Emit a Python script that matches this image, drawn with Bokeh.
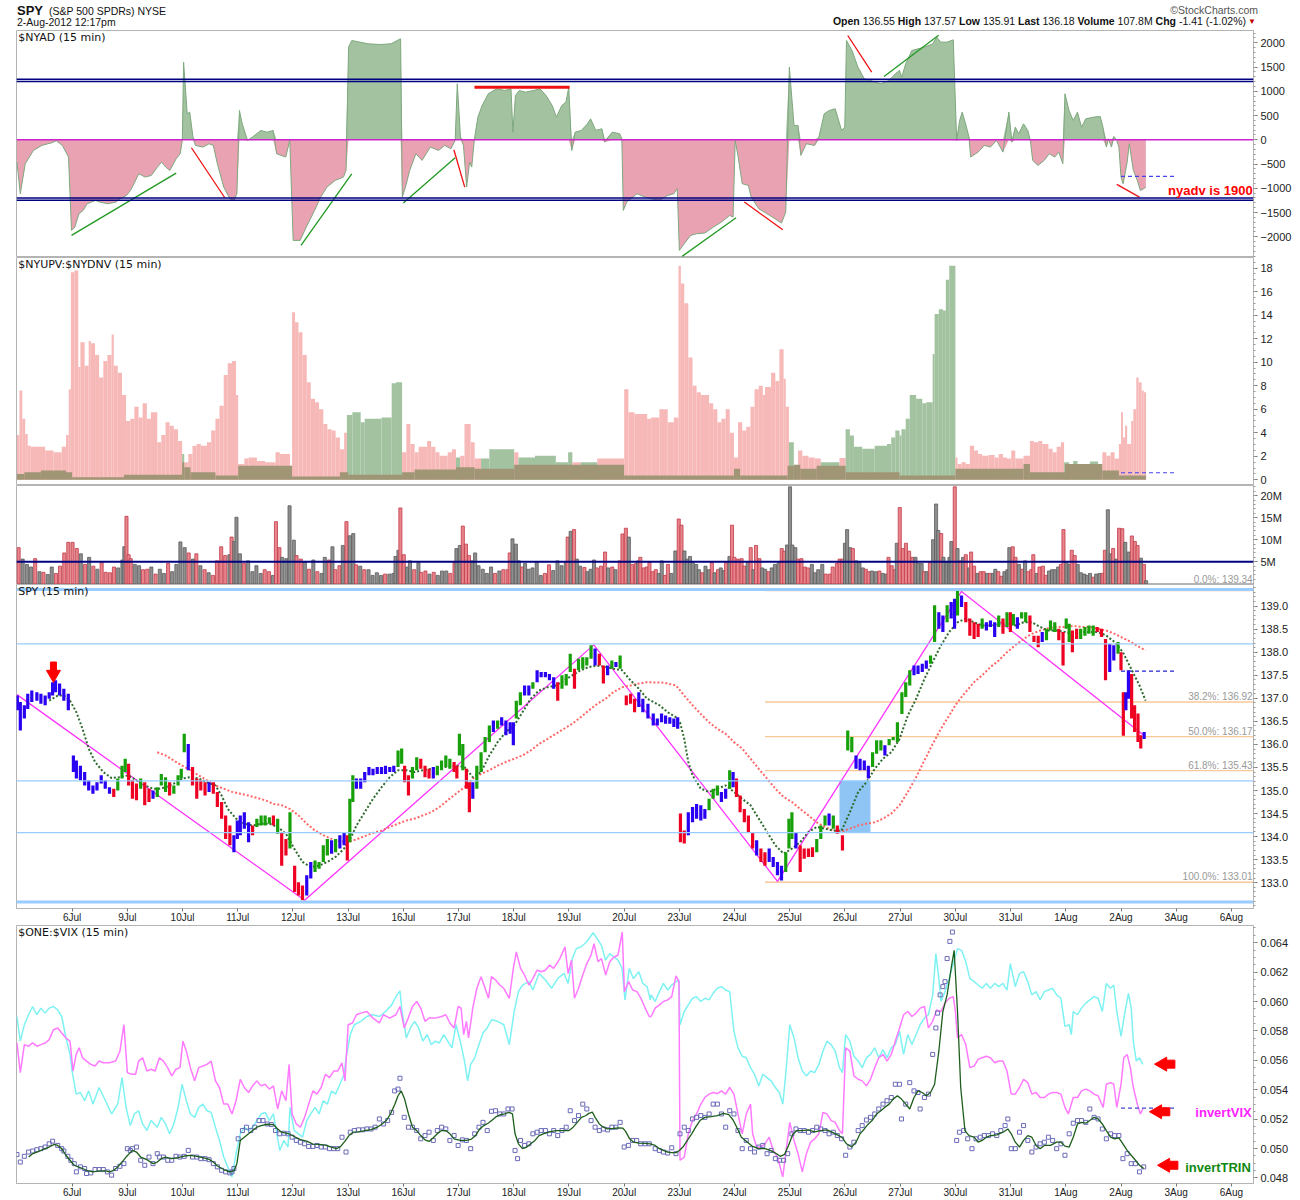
import numpy as np
from bokeh.plotting import figure
from bokeh.layouts import column
from bokeh.models import Range1d, FixedTicker, Span, Label, Div, PrintfTickFormatter
from bokeh.embed import file_html
from bokeh.resources import INLINE

# ---------------- x axis (15-minute bars, 26 per session) ----------------
BARS_PER_DAY = 26
DATES = ["6Jul", "9Jul", "10Jul", "11Jul", "12Jul", "13Jul", "16Jul", "17Jul", "18Jul", "19Jul", "20Jul",
         "23Jul", "24Jul", "25Jul", "26Jul", "27Jul", "30Jul", "31Jul", "1Aug", "2Aug", "3Aug", "6Aug"]
DATA_END = 531.8

# ---------------- $NYAD (bar index, value) ----------------
NYAD = [(0, -460), (1.6, -1112), (3.9, -494), (7.8, -219), (11.7, -116), (16.5, -60), (18.5, -20), (21.4, -116), (24.3, -356), (25.7, -1868),
        (27.3, -1800), (29.2, -1525), (31.2, -1456), (33.1, -1318), (37, -1250), (38.9, -1284), (42.8, -1318), (46.7, -1284), (48.7, -1215), (51.6, -1147),
        (53.5, -1044), (55.5, -872), (57.4, -700), (60.4, -769), (63.3, -734), (66.2, -563), (68.1, -460), (70.1, -563), (72, -631), (75, -391), (76.9, -288), (77.9, -13),
        (78.5, 1601), (80.2, 536), (81.4, 571), (82.9, 56), (84.1, -116), (87.6, -150), (90.5, -82), (92.5, -116), (94.4, -494), (97.4, -975), (100.3, -1215), (102.2, -1250), (103.6, -1112),
        (104.8, 605), (106.1, 330), (108.6, -13), (110.9, 56), (114.9, 193), (117.8, 158), (120.7, 193), (122.3, -288), (126.6, -356), (128.5, -13),
        (130.1, -2074), (133.4, -2074), (136.3, -1799), (140.2, -1456), (143.1, -1181), (146, -975), (149.9, -837), (153.8, -769), (155, -631),
        (156.2, 1911), (157.7, 2048), (161.6, 2014), (165.5, 1979), (171.3, 1965), (176.2, 1979), (179.1, 2048), (180.7, 2082),
        (181.5, -1181), (183, -975), (185, -631), (187.9, -288), (190.8, -425), (194.7, -150), (198.6, -219), (201.5, -116), (204.4, -185), (206.4, -13),
        (207.4, 1155), (208.9, 56), (210.3, -116), (211.8, -975), (213.2, -460), (214.2, -563), (215.4, -13), (217.1, 468), (219.1, 708), (222, 949), (225.9, 1052), (229.8, 1017), (232.7, 1052), (233.6, 158),
        (234.8, 914), (236.6, 1017), (239.5, 983), (243.4, 1017), (246.3, 1052), (249.2, 914), (252.1, 708), (254.1, 468), (256.6, 708), (258.6, 777), (259.9, 1086),
        (261.3, -219), (262.9, 158), (265.8, 193), (268.7, 330), (270.2, 433), (272.6, 193), (275.5, 227), (276.9, -48), (280.4, 158), (283.9, 124), (284.9, 21),
        (285.6, -1456), (287.2, -1284), (292.1, -1112), (295.9, -1181), (298.7, -1215), (302.5, -1250), (306.5, -1147), (309.4, -1112), (311.0, -1009),
        (312.0, -2280), (314.3, -2143), (317.3, -1971), (320.1, -1937), (324.0, -1923), (328.0, -1800), (331.8, -1696), (335.7, -1559), (337.3, -1594),
        (338.3, -13), (339.7, -356), (341.6, -906), (344.5, -940), (345.8, -1181), (349.4, -1421), (353.3, -1525), (357.1, -1628), (360.1, -1717), (362.1, -1490),
        (363.8, 1498), (366.0, 296), (367.9, 296), (369.2, -322), (371.8, -82), (375.7, -116), (377.7, 56), (380.2, 536), (382.6, 605), (385.4, 640), (388.4, 193), (389.9, 262),
        (390.7, 2048), (393.3, 1842), (396.1, 1498), (399.1, 1258), (402.0, 1223), (406.9, 1155), (410.8, 1223), (413.7, 1361), (415.7, 1430), (416.7, 1292),
        (418.6, 1567), (421.5, 1842), (424.4, 1876), (427.4, 1911), (431.3, 1979), (433.2, 2117), (435.1, 2014), (438.1, 2014), (441.0, 2062),
        (442.6, -13), (444.0, 399), (445.2, 571), (446.8, 330), (448.4, 56), (449.2, -356), (452.7, -254), (455.6, -116), (458.5, -150), (461.4, -13), (464.4, -254), (467.2, 571),
        (468.6, -48), (470.2, 262), (471.8, 124), (474.1, 330), (476.1, 193), (477.3, -13), (478.4, -425), (480.9, -528), (483.8, -425), (486.2, -288), (488.8, -356), (490.7, -254), (492.6, -494),
        (493.6, 949), (495.5, 605), (497.5, 399), (499.5, 571), (501.4, 262), (503.4, 433), (507.2, 468), (510.2, 482), (511.5, 262), (513.1, -150), (514.1, 21), (515.5, -150), (516.6, 69), (518.0, -13),
        (519.0, -150), (520.0, -769), (521.0, -906), (522.9, -460), (523.9, -82), (525.8, -631), (527.7, -837), (529.1, -1044), (530.7, -1009), (531.7, -975)]
NYAD_LEVELS = [1250, 1200, -1200, -1245]
NYAD_GREEN_LINES = [(25.7, -1971, 75.0, -686), (133.8, -2177, 157.7, -700), (182.0, -1305, 206.4, -370),
                    (313.3, -2404, 338.7, -1607), (408.4, 1306, 434.1, 2158)]
NYAD_RED_LINES = [(82.2, -164, 97.9, -1195), (205.8, -205, 210.9, -975), (342.6, -1284, 360.7, -1854),
                  (391.3, 2151, 402.6, 1395), (518.0, -920, 528.7, -1181)]
NYAD_RED_FLAT = [(215.5, 1086, 260.3, 1086)]
NYAD_DASH = [(520.0, -755, 545.2, -755)]
NYAD_NOTE = (582.0, -1045, "nyadv is 1900")

# ---------------- $NYUPV:$NYDNV (start bar, value, p=down-pink / g=up-green) ----------------
UPDN = [(0, 3.8, 'p'), (1.2, 7.6, 'p'), (2.5, 5.2, 'p'), (3.9, 3.9, 'p'), (5.1, 2.9, 'p'), (6.5, 2.8, 'p'), (13.3, 2.5, 'p'), (17.2, 2.35, 'p'),
        (21.1, 2.8, 'p'), (23.1, 3.8, 'p'), (24.4, 7.7, 'p'), (25.4, 17.65, 'p'), (27.0, 17.8, 'p'), (28.9, 9.6, 'p'), (29.9, 11.7, 'p'), (31.9, 9.7, 'p'),
        (33.8, 11.8, 'p'), (34.8, 11.6, 'p'), (36.8, 10.6, 'p'), (38.7, 8.7, 'p'), (40.7, 10.1, 'p'), (42.6, 10.6, 'p'), (44.6, 12.35, 'p'), (45.6, 9.7, 'p'),
        (47.5, 9.1, 'p'), (49.5, 7.2, 'p'), (51.4, 5.0, 'p'), (53.4, 5.2, 'p'), (55.3, 6.2, 'p'), (57.3, 5.3, 'p'), (59.2, 6.5, 'p'), (61.2, 5.2, 'p'),
        (63.1, 5.75, 'p'), (66.1, 3.2, 'p'), (68.0, 3.8, 'p'), (70.0, 4.9, 'p'), (71.9, 4.6, 'p'), (73.9, 4.3, 'p'), (75.9, 3.3, 'p'), (77.8, 2.2, 'g'),
        (78.8, 1.5, 'p'), (80.7, 2.2, 'p'), (82.7, 2.9, 'p'), (84.7, 3.05, 'p'), (86.6, 2.9, 'p'), (89.5, 3.2, 'p'), (91.5, 4.2, 'p'), (93.5, 5.2, 'p'),
        (95.4, 6.3, 'p'), (97.4, 8.9, 'p'), (99.3, 9.9, 'p'), (101.3, 10.1, 'p'), (103.2, 7.2, 'p'), (104.2, 1.35, 'p'), (107.1, 1.8, 'p'), (109.1, 1.9, 'p'),
        (113.0, 1.6, 'p'), (116.9, 1.5, 'p'), (121.8, 2.35, 'p'), (123.8, 2.2, 'p'), (128.6, 1.2, 'p'), (129.6, 14.25, 'p'), (131.0, 13.4, 'p'),
        (132.6, 12.55, 'p'), (134.5, 10.6, 'p'), (136.5, 8.3, 'p'), (138.4, 6.9, 'p'), (140.4, 6.6, 'p'), (142.3, 6.0, 'p'), (144.3, 4.75, 'p'), (146.2, 4.3, 'p'),
        (148.2, 4.2, 'p'), (150.1, 3.6, 'p'), (152.1, 2.6, 'p'), (154.1, 4.0, 'p'), (155.4, 5.5, 'g'), (158.0, 5.75, 'g'), (161.9, 4.9, 'g'), (163.8, 5.2, 'g'),
        (171.7, 5.3, 'g'), (176.5, 8.2, 'g'), (178.5, 8.3, 'g'), (181.4, 2.35, 'p'), (183.4, 4.75, 'p'), (185.3, 3.05, 'p'), (187.3, 2.35, 'p'), (189.2, 2.8, 'p'),
        (193.2, 3.3, 'p'), (195.1, 2.8, 'p'), (197.1, 2.35, 'p'), (199.0, 2.05, 'p'), (202.9, 2.35, 'p'), (204.9, 2.6, 'p'), (206.8, 1.9, 'g'), (208.8, 2.05, 'p'),
        (210.8, 4.75, 'p'), (213.7, 3.2, 'p'), (215.6, 1.8, 'p'), (218.6, 1.8, 'g'), (222.5, 2.6, 'g'), (234.2, 2.35, 'p'), (236.2, 1.9, 'g'), (244.0, 2.05, 'g'),
        (253.8, 1.5, 'g'), (259.6, 2.35, 'g'), (261.6, 1.5, 'p'), (265.5, 1.5, 'g'), (273.3, 1.8, 'p'), (286.0, 7.7, 'p'), (288.0, 5.75, 'p'), (290.9, 5.6, 'p'),
        (296.8, 5.2, 'p'), (298.7, 5.3, 'p'), (302.6, 6.0, 'p'), (306.5, 4.9, 'p'), (309.4, 5.3, 'p'), (311.6, 18.2, 'p'), (312.7, 16.7, 'p'), (314.3, 15.0, 'p'),
        (316.2, 10.4, 'p'), (318.2, 8.0, 'p'), (320.1, 7.45, 'p'), (322.1, 7.2, 'p'), (326.0, 6.5, 'p'), (327.9, 6.0, 'p'), (329.9, 4.9, 'p'), (331.8, 5.2, 'p'),
        (333.8, 6.0, 'p'), (335.7, 4.0, 'p'), (337.7, 1.9, 'p'), (339.6, 4.9, 'p'), (341.6, 4.2, 'p'), (343.5, 4.5, 'p'), (345.5, 6.2, 'p'), (347.4, 7.7, 'p'),
        (349.4, 8.0, 'p'), (351.3, 7.2, 'p'), (352.3, 7.9, 'p'), (355.2, 9.1, 'p'), (357.2, 8.4, 'p'), (359.1, 11.1, 'p'), (361.1, 8.6, 'p'), (362.1, 6.2, 'p'),
        (363.6, 3.2, 'g'), (365.9, 1.2, 'p'), (367.9, 2.5, 'p'), (369.9, 2.05, 'p'), (372.8, 1.9, 'p'), (375.7, 1.8, 'p'), (378.6, 1.5, 'g'), (387.4, 1.85, 'p'),
        (390.3, 4.3, 'g'), (392.3, 3.76, 'g'), (394.2, 2.8, 'g'), (398.1, 2.65, 'g'), (404.0, 2.9, 'g'), (409.8, 3.05, 'g'), (411.8, 3.6, 'g'), (413.7, 4.2, 'g'),
        (415.7, 3.76, 'g'), (416.6, 4.3, 'g'), (418.6, 5.2, 'g'), (420.5, 7.2, 'g'), (423.5, 6.9, 'g'), (426.4, 6.5, 'g'), (428.3, 6.6, 'g'), (431.3, 10.7, 'g'),
        (432.2, 14.1, 'g'), (434.2, 14.5, 'g'), (436.1, 14.4, 'g'), (437.5, 17.0, 'g'), (439.1, 18.2, 'g'), (442.0, 1.9, 'p'), (443.0, 1.35, 'p'), (444.9, 1.5, 'p'),
        (446.9, 1.35, 'p'), (448.8, 2.9, 'p'), (450.8, 2.5, 'p'), (452.7, 2.2, 'p'), (454.6, 2.05, 'p'), (457.6, 2.1, 'p'), (460.5, 1.9, 'p'), (462.4, 2.2, 'p'),
        (464.4, 1.9, 'p'), (466.3, 1.8, 'p'), (468.3, 2.5, 'p'), (470.2, 1.8, 'p'), (474.1, 2.05, 'p'), (477.1, 3.3, 'p'), (479.0, 3.2, 'p'), (481.0, 3.3, 'p'),
        (482.9, 3.05, 'p'), (485.8, 2.65, 'p'), (487.8, 2.35, 'p'), (489.7, 2.8, 'p'), (491.7, 3.2, 'p'), (493.2, 1.5, 'g'), (495.6, 1.35, 'p'), (497.5, 1.6, 'g'),
        (499.5, 1.35, 'g'), (505.3, 1.55, 'g'), (509.2, 1.2, 'p'), (511.2, 2.35, 'p'), (513.1, 2.05, 'p'), (515.1, 2.35, 'p'), (517.0, 1.8, 'p'), (519.0, 3.05, 'p'),
        (520.0, 5.75, 'p'), (520.9, 3.6, 'p'), (521.9, 4.6, 'p'), (522.9, 3.05, 'p'), (524.8, 5.0, 'p'), (525.8, 6.0, 'p'), (527.2, 8.7, 'p'), (528.3, 8.3, 'p'),
        (529.7, 7.6, 'p'), (530.7, 7.45, 'p')]
UPDN_BASE = [(0, 0.5), (3.5, 0.64), (11.3, 0.78), (23.1, 0.64), (26.0, 0.22), (50.4, 0.42), (77.8, 1.5), (78.8, 1.07), (81.7, 0.64), (93.5, 0.36),
             (104.2, 1.2), (129.6, 0.27), (152.1, 0.64), (156.0, 0.42), (181.4, 0.64), (187.3, 0.87), (206.8, 1.07), (215.6, 0.93), (234.2, 1.27),
             (286.0, 0.36), (337.7, 0.93), (340.6, 0.36), (363.0, 1.2), (365.9, 1.27), (368.9, 0.93), (376.7, 1.2), (390.3, 0.64), (415.7, 0.36),
             (442.0, 0.93), (474.1, 1.35), (477.1, 0.64), (493.6, 1.35), (511.2, 0.78), (519.0, 0.36)]
UPDN_DASH = (520.0, 545.3, 0.6)

# ---------------- Volume (bar, millions, r=down / g=gray) ----------------
VOL = [(0.8, 8.2, 'r'), (2.7, 5.6, 'g'), (4.7, 4.4, 'g'), (6.6, 3.8, 'g'), (8.6, 5.7, 'r'), (10.6, 2.75, 'g'), (12.5, 2.6, 'r'), (14.5, 2.1, 'g'),
       (16.4, 3.8, 'g'), (18.4, 2.35, 'r'), (20.3, 4.0, 'r'), (22.3, 7.0, 'r'), (24.2, 9.4, 'r'), (26.2, 9.4, 'r'), (28.2, 8.0, 'r'), (30.1, 6.8, 'g'),
       (32.1, 4.4, 'r'), (34.0, 6.0, 'g'), (36.0, 4.0, 'r'), (37.9, 3.3, 'g'), (39.9, 4.8, 'r'), (41.8, 2.6, 'r'), (43.8, 2.5, 'r'), (45.7, 3.8, 'r'),
       (47.7, 3.6, 'g'), (49.7, 5.4, 'g'), (50.6, 8.4, 'g'), (51.6, 15.3, 'r'), (52.6, 6.6, 'r'), (53.6, 5.7, 'r'), (55.5, 4.4, 'g'), (57.5, 4.1, 'g'),
       (59.4, 3.2, 'r'), (61.4, 3.3, 'r'), (63.3, 3.8, 'g'), (65.3, 2.2, 'r'), (67.3, 3.3, 'g'), (69.2, 2.35, 'g'), (71.2, 4.6, 'r'), (73.1, 2.75, 'g'),
       (75.1, 4.4, 'g'), (77.0, 9.5, 'g'), (79.0, 8.2, 'g'), (80.9, 7.0, 'r'), (82.9, 5.6, 'g'), (84.5, 6.8, 'r'), (86.4, 4.1, 'g'), (88.4, 3.2, 'r'),
       (90.3, 2.5, 'g'), (92.3, 1.9, 'r'), (94.2, 5.2, 'r'), (96.2, 8.4, 'r'), (98.1, 6.4, 'r'), (100.1, 6.6, 'g'), (101.1, 10.6, 'r'), (102.4, 9.6, 'g'),
       (103.4, 15.1, 'g'), (105.0, 6.8, 'g'), (106.9, 4.6, 'r'), (108.9, 5.2, 'g'), (110.9, 2.75, 'g'), (112.8, 4.1, 'g'), (114.8, 2.35, 'g'), (116.7, 3.2, 'r'),
       (118.7, 2.75, 'r'), (120.6, 1.9, 'g'), (122.0, 14.1, 'r'), (123.6, 8.2, 'r'), (124.9, 6.0, 'g'), (126.9, 5.7, 'g'), (128.4, 17.7, 'g'), (130.4, 9.9, 'g'),
       (131.7, 6.4, 'r'), (133.7, 5.6, 'r'), (135.6, 4.9, 'g'), (137.6, 3.3, 'r'), (139.6, 5.4, 'g'), (141.5, 2.75, 'r'), (143.5, 2.35, 'g'), (145.0, 6.0, 'g'),
       (147.0, 5.4, 'r'), (148.6, 8.4, 'g'), (149.9, 3.2, 'r'), (151.9, 4.1, 'r'), (153.5, 8.7, 'g'), (155.2, 14.1, 'r'), (156.8, 10.9, 'g'), (158.4, 11.4, 'g'),
       (159.7, 4.3, 'r'), (161.7, 4.0, 'g'), (163.6, 3.2, 'r'), (165.6, 3.2, 'g'), (167.5, 1.9, 'g'), (169.5, 2.5, 'g'), (171.5, 1.9, 'g'), (173.4, 2.2, 'r'),
       (175.4, 2.2, 'g'), (177.3, 2.35, 'g'), (178.3, 6.2, 'g'), (179.7, 7.6, 'g'), (180.6, 17.2, 'r'), (182.2, 6.6, 'r'), (183.8, 3.8, 'g'), (185.1, 5.2, 'g'),
       (187.1, 3.2, 'r'), (189.1, 4.8, 'g'), (190.4, 2.6, 'r'), (192.4, 2.9, 'r'), (194.3, 2.2, 'g'), (196.3, 2.6, 'r'), (198.2, 1.9, 'g'), (200.2, 2.9, 'g'),
       (202.2, 2.9, 'g'), (204.1, 2.35, 'r'), (206.1, 4.8, 'r'), (207.0, 8.0, 'g'), (208.6, 8.7, 'g'), (210.0, 13.1, 'r'), (211.5, 9.0, 'r'), (212.9, 6.4, 'r'),
       (214.5, 5.2, 'g'), (215.8, 7.0, 'g'), (217.4, 4.1, 'g'), (219.4, 3.3, 'g'), (221.3, 2.35, 'g'), (223.3, 3.8, 'g'), (225.2, 2.35, 'r'), (227.2, 2.9, 'g'),
       (229.1, 3.2, 'r'), (231.1, 3.2, 'r'), (232.1, 7.0, 'r'), (233.4, 10.2, 'g'), (235.0, 9.0, 'g'), (236.4, 5.2, 'g'), (237.9, 3.8, 'r'), (239.3, 4.6, 'g'),
       (240.9, 3.3, 'g'), (242.8, 3.6, 'g'), (244.8, 4.8, 'g'), (246.7, 1.9, 'g'), (248.7, 2.35, 'r'), (250.6, 4.3, 'r'), (252.6, 3.0, 'g'), (254.6, 5.2, 'g'),
       (256.5, 4.1, 'g'), (258.5, 4.8, 'g'), (259.4, 10.6, 'r'), (260.8, 11.9, 'g'), (262.4, 12.3, 'r'), (263.7, 5.6, 'g'), (265.3, 4.0, 'g'), (267.3, 3.7, 'r'),
       (268.7, 2.75, 'g'), (270.2, 3.3, 'g'), (271.8, 5.4, 'g'), (273.1, 3.6, 'r'), (275.1, 4.0, 'r'), (277.0, 7.2, 'r'), (278.4, 3.6, 'g'), (280.4, 3.8, 'r'),
       (281.9, 3.2, 'g'), (283.9, 5.2, 'r'), (285.2, 11.3, 'r'), (286.8, 12.6, 'r'), (288.2, 10.6, 'g'), (289.7, 4.4, 'r'), (291.6, 4.6, 'r'), (292.6, 5.2, 'g'),
       (293.6, 6.0, 'r'), (295.2, 3.6, 'r'), (296.6, 3.8, 'r'), (297.9, 4.9, 'r'),
       (299.4, 2.75, 'r'), (300.9, 3.2, 'r'), (302.3, 2.35, 'g'), (303.7, 5.2, 'g'), (305.2, 1.9, 'r'), (306.6, 4.4, 'r'), (308.2, 2.35, 'g'), (310.1, 7.45, 'g'),
       (311.7, 14.7, 'r'), (313.0, 13.3, 'r'), (314.4, 7.45, 'g'), (315.6, 5.6, 'g'), (317.0, 6.2, 'g'), (318.3, 4.8, 'g'), (319.9, 4.4, 'g'), (321.2, 3.2, 'g'),
       (322.8, 2.5, 'r'), (324.3, 4.0, 'g'), (325.9, 3.2, 'g'), (327.3, 4.8, 'r'), (328.6, 2.5, 'g'), (330.2, 3.2, 'r'), (331.5, 3.6, 'g'), (332.9, 3.0, 'g'),
       (334.0, 4.8, 'r'), (335.6, 6.2, 'g'), (336.8, 13.3, 'r'), (337.9, 6.0, 'r'), (339.5, 5.6, 'r'), (341.3, 5.7, 'r'), (342.6, 4.0, 'r'), (344.2, 4.8, 'g'),
       (345.6, 8.2, 'r'), (346.9, 3.2, 'g'), (348.1, 8.7, 'r'), (349.7, 5.7, 'r'), (351.0, 3.6, 'g'), (352.4, 3.3, 'g'), (354.0, 2.75, 'r'), (355.5, 3.6, 'g'),
       (357.0, 4.4, 'g'), (358.8, 4.8, 'g'), (360.2, 8.0, 'r'), (361.4, 7.4, 'r'), (362.7, 8.8, 'g'), (364.1, 22.0, 'g'), (365.2, 8.8, 'g'), (366.6, 8.2, 'g'),
       (367.9, 5.6, 'r'), (369.5, 5.7, 'r'), (371.1, 3.8, 'r'), (372.5, 3.6, 'r'), (374.4, 4.4, 'g'), (375.8, 2.5, 'g'), (377.4, 3.2, 'g'), (379.3, 4.4, 'g'),
       (380.9, 2.2, 'r'), (382.8, 2.2, 'r'), (384.2, 3.8, 'r'), (386.2, 4.6, 'r'), (387.5, 5.6, 'r'), (388.7, 5.6, 'r'), (390.0, 9.2, 'g'), (391.0, 12.3, 'g'),
       (392.4, 8.2, 'g'), (393.7, 8.0, 'r'), (395.3, 5.2, 'g'), (396.8, 4.9, 'g'), (398.4, 3.6, 'g'), (399.8, 3.3, 'r'), (401.1, 2.75, 'r'), (402.7, 2.9, 'g'),
       (404.6, 2.75, 'g'), (406.2, 2.9, 'r'), (407.8, 2.35, 'g'), (409.5, 2.2, 'g'), (410.5, 6.0, 'r'), (412.0, 4.1, 'r'), (413.4, 3.2, 'r'), (414.4, 9.2, 'g'),
       (415.8, 17.3, 'r'), (417.3, 8.0, 'r'), (418.7, 9.2, 'r'), (420.2, 7.4, 'r'), (421.8, 6.0, 'r'), (423.2, 6.0, 'g'), (424.5, 4.6, 'g'), (426.1, 4.6, 'g'),
       (427.2, 2.75, 'r'), (428.4, 2.75, 'g'), (430.0, 4.8, 'r'), (431.5, 10.0, 'g'), (432.9, 18.1, 'g'), (433.9, 12.1, 'g'), (435.3, 11.4, 'r'), (436.4, 6.0, 'g'),
       (437.8, 4.9, 'g'), (439.2, 6.0, 'g'), (440.1, 9.6, 'g'), (441.7, 22.0, 'r'), (443.0, 8.0, 'g'), (444.4, 5.2, 'r'), (445.6, 6.0, 'g'), (446.9, 6.6, 'r'),
       (448.5, 3.6, 'g'), (449.4, 7.2, 'r'), (450.8, 4.0, 'r'), (452.4, 2.35, 'g'), (453.9, 2.75, 'r'), (455.3, 2.75, 'r'), (456.9, 2.35, 'g'), (458.3, 2.35, 'r'),
       (459.6, 2.35, 'g'), (460.8, 3.3, 'g'), (462.2, 2.75, 'r'), (463.7, 1.7, 'r'), (465.1, 2.75, 'g'), (466.5, 3.2, 'g'), (467.4, 8.2, 'g'), (469.0, 8.4, 'r'),
       (470.3, 6.0, 'r'), (471.9, 4.4, 'g'), (473.5, 3.3, 'r'), (474.8, 5.2, 'g'), (476.2, 2.75, 'r'), (477.7, 3.2, 'r'), (478.7, 6.6, 'r'), (480.3, 2.35, 'g'),
       (481.6, 3.8, 'r'), (483.2, 4.0, 'r'), (484.6, 1.9, 'r'), (486.1, 2.9, 'g'), (487.5, 3.2, 'g'), (488.8, 3.2, 'g'), (490.4, 3.8, 'g'), (491.7, 4.4, 'r'),
       (492.9, 12.3, 'r'), (494.3, 4.9, 'g'), (495.7, 4.4, 'g'), (496.8, 7.6, 'r'), (498.2, 6.4, 'r'), (499.6, 4.4, 'g'), (501.1, 2.5, 'g'), (502.7, 2.2, 'g'),
       (504.0, 1.9, 'g'), (505.4, 2.35, 'g'), (507.0, 1.5, 'r'), (508.3, 2.2, 'g'), (509.9, 2.35, 'g'), (511.3, 2.35, 'r'), (512.4, 7.6, 'r'), (513.8, 16.8, 'g'),
       (515.2, 6.8, 'g'), (516.3, 8.0, 'r'), (517.7, 5.6, 'g'), (519.1, 12.6, 'r'), (520.6, 12.5, 'r'), (522.0, 9.4, 'g'), (523.6, 7.2, 'g'), (525.1, 10.85, 'r'),
       (526.5, 9.6, 'r'), (527.8, 8.7, 'r'), (529.4, 5.8, 'g'), (530.8, 4.4, 'r'), (531.8, 0.7, 'g')]
VOL_LEVEL = 5.0

# ---------------- SPY 15-min bars (bar, low, high, trend colour b/g/r) ----------------
SPY = [(0.2, 136.74, 137.06, 'b'), (1.6, 136.30, 136.92, 'b'), (3.5, 136.56, 136.85, 'b'), (5.1, 136.77, 137.10, 'b'), (7.0, 136.92, 137.17, 'b'),
       (9.4, 136.95, 137.13, 'b'), (11.3, 136.88, 137.10, 'b'), (13.3, 136.85, 137.06, 'b'), (15.2, 136.99, 137.13, 'b'), (16.8, 137.06, 137.35, 'b'),
       (18.2, 137.13, 137.39, 'b'), (20.1, 137.06, 137.32, 'b'), (22.1, 136.95, 137.21, 'b'), (24.2, 136.74, 137.10, 'b'),
       (26.6, 135.40, 135.76, 'b'), (28.0, 135.26, 135.65, 'b'), (29.9, 135.22, 135.54, 'b'), (31.9, 135.11, 135.40, 'b'), (33.8, 135.00, 135.22, 'b'),
       (35.8, 134.93, 135.11, 'b'), (37.7, 135.00, 135.18, 'b'), (39.7, 135.15, 135.33, 'b'), (41.6, 135.04, 135.22, 'b'), (43.6, 134.93, 135.07, 'b'),
       (45.6, 134.86, 135.04, 'r'), (47.5, 135.00, 135.26, 'g'), (49.5, 135.26, 135.54, 'g'), (51.0, 135.40, 135.69, 'g'),
       (52.6, 135.11, 135.58, 'r'), (54.4, 134.82, 135.22, 'r'), (56.3, 134.79, 135.15, 'r'), (58.3, 135.04, 135.26, 'g'), (60.2, 134.68, 135.18, 'r'),
       (62.2, 134.75, 135.04, 'r'), (64.1, 134.82, 135.00, 'b'), (66.1, 134.86, 135.07, 'g'), (68.0, 135.11, 135.36, 'g'), (70.0, 134.97, 135.29, 'g'),
       (71.9, 134.89, 135.18, 'r'), (73.9, 134.93, 135.11, 'g'), (75.9, 135.11, 135.33, 'g'), (77.4, 135.26, 135.47, 'g'),
       (78.8, 135.83, 136.23, 'g'), (80.7, 135.44, 136.01, 'b'), (82.7, 135.11, 135.51, 'r'), (84.7, 134.82, 135.26, 'r'), (86.6, 135.00, 135.22, 'r'),
       (88.6, 134.89, 135.18, 'r'), (90.5, 134.97, 135.18, 'b'), (92.5, 134.93, 135.18, 'r'), (94.4, 134.64, 134.97, 'r'), (96.4, 134.39, 134.75, 'r'),
       (98.3, 133.95, 134.46, 'r'), (100.3, 133.81, 134.24, 'r'), (102.2, 133.66, 134.03, 'b'), (103.8, 133.95, 134.35, 'b'),
       (105.2, 134.03, 134.46, 'b'), (107.1, 134.17, 134.53, 'b'), (109.1, 133.88, 134.31, 'b'), (111.0, 134.03, 134.24, 'r'), (113.0, 134.21, 134.39, 'g'),
       (115.0, 134.24, 134.46, 'g'), (116.9, 134.24, 134.46, 'g'), (118.9, 134.28, 134.42, 'g'), (120.8, 134.24, 134.46, 'r'), (122.8, 134.06, 134.39, 'g'),
       (124.7, 133.37, 134.10, 'r'), (126.7, 133.59, 133.95, 'r'), (128.6, 133.74, 134.53, 'g'),
       (130.8, 132.80, 133.37, 'r'), (132.6, 132.72, 133.01, 'r'), (134.5, 132.62, 132.94, 'r'), (136.5, 132.72, 133.16, 'b'), (138.4, 133.09, 133.45, 'b'),
       (140.4, 133.23, 133.48, 'g'), (142.3, 133.30, 133.45, 'g'), (144.3, 133.45, 133.81, 'g'), (146.2, 133.59, 133.95, 'g'), (148.2, 133.63, 133.92, 'b'),
       (150.1, 133.66, 133.95, 'g'), (152.1, 133.74, 134.03, 'b'), (154.1, 133.81, 134.10, 'b'), (155.6, 133.48, 134.03, 'r'),
       (156.8, 133.88, 134.82, 'g'), (158.2, 134.75, 135.33, 'g'), (159.9, 135.04, 135.26, 'b'), (161.9, 135.04, 135.26, 'b'), (163.8, 135.18, 135.40, 'b'),
       (165.8, 135.33, 135.51, 'b'), (167.7, 135.33, 135.47, 'b'), (169.7, 135.36, 135.51, 'b'), (171.7, 135.36, 135.51, 'b'), (173.6, 135.36, 135.54, 'b'),
       (175.6, 135.40, 135.51, 'b'), (177.5, 135.40, 135.54, 'b'), (179.5, 135.51, 135.87, 'g'), (181.2, 135.58, 135.91, 'g'),
       (182.6, 135.18, 135.54, 'r'), (184.4, 134.89, 135.33, 'r'), (186.3, 135.26, 135.51, 'g'), (188.3, 135.44, 135.72, 'g'), (190.2, 135.47, 135.69, 'r'),
       (192.2, 135.29, 135.54, 'r'), (194.1, 135.26, 135.47, 'r'), (196.1, 135.26, 135.51, 'b'), (198.0, 135.33, 135.54, 'g'), (200.0, 135.44, 135.65, 'g'),
       (202.0, 135.51, 135.76, 'g'), (203.9, 135.47, 135.69, 'g'), (205.9, 135.40, 135.62, 'r'), (207.2, 135.26, 135.54, 'r'),
       (208.4, 135.76, 136.23, 'g'), (210.0, 135.44, 136.01, 'g'), (211.7, 135.04, 135.47, 'r'), (213.1, 134.53, 135.18, 'r'), (214.7, 134.82, 135.18, 'b'),
       (216.6, 135.04, 135.54, 'g'), (218.6, 135.40, 135.83, 'g'), (220.5, 135.83, 136.16, 'g'), (222.5, 136.05, 136.41, 'g'), (224.4, 136.27, 136.52, 'b'),
       (226.4, 136.34, 136.52, 'g'), (228.3, 136.41, 136.59, 'b'), (230.3, 136.20, 136.52, 'b'), (232.3, 136.23, 136.48, 'b'), (233.8, 135.98, 136.48, 'b'),
       (235.2, 136.56, 136.95, 'g'), (237.1, 136.85, 137.13, 'g'), (239.1, 137.06, 137.28, 'b'), (241.1, 137.06, 137.28, 'b'), (243.0, 137.21, 137.35, 'g'),
       (245.0, 137.35, 137.61, 'b'), (246.9, 137.46, 137.57, 'b'), (248.9, 137.46, 137.57, 'b'), (250.8, 137.39, 137.53, 'b'), (252.8, 137.21, 137.46, 'b'),
       (254.7, 136.95, 137.35, 'r'), (256.7, 137.21, 137.50, 'g'), (258.7, 137.28, 137.53, 'g'),
       (260.6, 137.57, 137.97, 'g'), (262.6, 137.21, 137.64, 'r'), (264.5, 137.61, 137.86, 'g'), (266.5, 137.64, 137.89, 'g'), (268.4, 137.71, 137.89, 'g'),
       (270.4, 137.86, 138.15, 'g'), (272.3, 137.71, 138.08, 'b'), (274.3, 137.71, 137.97, 'r'), (276.2, 137.32, 137.71, 'r'), (278.2, 137.50, 137.71, 'b'),
       (280.2, 137.64, 137.82, 'g'), (282.1, 137.68, 137.79, 'b'), (284.1, 137.64, 137.93, 'g'),
       (287.0, 136.85, 137.06, 'r'), (289.0, 136.88, 137.10, 'r'), (290.9, 136.70, 136.99, 'r'), (292.9, 136.81, 137.13, 'b'), (294.8, 136.70, 136.99, 'b'),
       (297.2, 136.56, 136.88, 'b'), (299.7, 136.41, 136.67, 'b'), (301.6, 136.41, 136.56, 'b'), (303.6, 136.48, 136.67, 'b'), (305.5, 136.45, 136.63, 'b'),
       (307.5, 136.45, 136.59, 'b'), (309.4, 136.38, 136.56, 'b'), (311.2, 136.34, 136.59, 'b'),
       (312.5, 133.88, 134.50, 'r'), (314.3, 133.85, 134.13, 'r'), (316.2, 134.03, 134.53, 'b'), (318.2, 134.31, 134.64, 'b'), (320.1, 134.39, 134.71, 'b'),
       (322.1, 134.35, 134.68, 'b'), (324.0, 134.39, 134.60, 'b'), (326.0, 134.57, 134.82, 'g'), (327.9, 134.82, 135.04, 'g'), (329.9, 134.89, 135.11, 'g'),
       (331.8, 134.75, 134.97, 'b'), (333.8, 134.82, 135.04, 'b'), (335.7, 135.04, 135.44, 'g'), (337.3, 135.07, 135.40, 'b'),
       (338.9, 134.86, 135.26, 'r'), (340.6, 134.53, 134.89, 'r'), (342.6, 134.31, 134.60, 'r'), (344.5, 134.10, 134.46, 'r'), (346.5, 133.74, 134.10, 'r'),
       (348.4, 133.59, 133.92, 'b'), (350.4, 133.45, 133.74, 'r'), (352.3, 133.37, 133.66, 'r'), (354.3, 133.45, 133.74, 'b'), (356.2, 133.34, 133.56, 'b'),
       (358.2, 133.16, 133.45, 'b'), (360.1, 133.05, 133.37, 'b'), (362.1, 133.23, 133.66, 'g'), (363.6, 133.74, 134.39, 'g'),
       (365.0, 133.95, 134.53, 'g'), (366.9, 133.74, 134.10, 'b'), (368.9, 133.23, 133.81, 'r'), (370.8, 133.52, 133.74, 'r'), (372.8, 133.56, 133.74, 'r'),
       (374.7, 133.56, 133.77, 'r'), (376.7, 133.66, 133.95, 'g'), (378.6, 133.95, 134.24, 'g'), (380.6, 134.24, 134.46, 'g'), (382.5, 134.24, 134.50, 'b'),
       (384.5, 134.17, 134.46, 'g'), (386.4, 134.06, 134.24, 'r'), (388.8, 133.70, 134.03, 'r'),
       (391.3, 135.87, 136.30, 'g'), (393.2, 135.83, 136.16, 'g'), (395.2, 135.47, 135.76, 'b'), (397.1, 135.44, 135.69, 'b'), (399.1, 135.44, 135.65, 'b'),
       (401.0, 135.26, 135.54, 'b'), (403.0, 135.51, 135.83, 'g'), (404.9, 135.80, 136.09, 'g'), (406.9, 135.87, 136.09, 'g'), (408.8, 135.76, 135.98, 'b'),
       (410.8, 135.98, 136.12, 'g'), (412.7, 136.09, 136.16, 'g'), (414.7, 136.05, 136.48, 'g'),
       (416.8, 136.66, 137.13, 'g'), (418.6, 137.03, 137.35, 'g'), (420.5, 137.28, 137.61, 'g'), (422.5, 137.50, 137.71, 'b'), (424.4, 137.53, 137.71, 'b'),
       (426.4, 137.57, 137.75, 'b'), (428.3, 137.64, 137.82, 'b'), (430.3, 137.75, 137.93, 'g'), (432.2, 138.22, 139.02, 'g'), (434.2, 138.51, 138.87, 'b'),
       (436.1, 138.44, 138.80, 'b'), (438.1, 138.65, 139.02, 'g'), (440.0, 138.73, 139.09, 'b'), (441.6, 138.51, 139.16, 'b'),
       (443.0, 138.80, 139.34, 'g'), (444.9, 138.98, 139.23, 'b'), (446.9, 138.65, 139.09, 'r'), (448.8, 138.36, 138.73, 'r'), (450.8, 138.29, 138.65, 'r'),
       (452.7, 138.33, 138.62, 'r'), (454.6, 138.51, 138.73, 'g'), (456.6, 138.47, 138.65, 'b'), (458.5, 138.55, 138.69, 'b'), (460.5, 138.33, 138.65, 'b'),
       (462.4, 138.55, 138.80, 'g'), (464.4, 138.40, 138.73, 'r'), (466.3, 138.55, 138.87, 'g'), (467.9, 138.44, 138.87, 'r'),
       (469.3, 138.58, 138.83, 'g'), (471.2, 138.51, 138.76, 'b'), (473.2, 138.73, 138.87, 'g'), (475.1, 138.65, 138.87, 'g'), (477.1, 138.44, 138.80, 'r'),
       (479.0, 138.22, 138.36, 'r'), (481.0, 138.11, 138.36, 'r'), (482.9, 138.22, 138.44, 'b'), (484.9, 138.26, 138.51, 'g'), (486.8, 138.47, 138.69, 'g'),
       (488.8, 138.44, 138.65, 'g'), (490.7, 138.26, 138.51, 'r'), (492.7, 137.71, 138.44, 'r'), (494.2, 138.51, 138.73, 'g'),
       (495.6, 138.22, 138.62, 'g'), (497.1, 138.00, 138.47, 'r'), (499.1, 138.29, 138.51, 'r'), (501.0, 138.29, 138.51, 'g'), (503.0, 138.36, 138.55, 'g'),
       (504.9, 138.40, 138.58, 'g'), (506.9, 138.36, 138.58, 'g'), (508.8, 138.44, 138.55, 'r'), (510.8, 138.33, 138.51, 'r'), (512.7, 137.39, 138.29, 'r'),
       (514.7, 137.57, 138.18, 'b'), (516.6, 137.82, 138.15, 'b'), (518.6, 137.97, 138.22, 'g'), (520.0, 137.61, 138.00, 'r'),
       (521.1, 136.19, 137.13, 'r'), (522.3, 136.74, 137.13, 'b'), (523.5, 136.99, 137.61, 'b'), (525.0, 136.56, 137.53, 'r'), (526.4, 136.27, 136.85, 'r'),
       (528.0, 136.05, 136.67, 'r'), (529.3, 135.91, 136.20, 'r'), (530.9, 136.12, 136.27, 'b')]

SPY_MA_FAST = [(15.2, 136.95), (19.2, 137.06), (22.1, 137.06), (25.0, 136.95), (28.0, 136.70), (30.9, 136.34), (33.8, 135.91), (36.8, 135.62),
               (40.7, 135.40), (44.6, 135.27), (48.5, 135.29), (52.4, 135.33), (56.3, 135.22), (60.2, 135.11), (64.1, 135.04), (67.1, 135.04),
               (70.0, 135.07), (73.9, 135.15), (77.8, 135.26), (81.7, 135.29), (85.6, 135.26), (89.5, 135.18), (93.5, 135.11), (96.4, 134.89),
               (99.3, 134.60), (103.2, 134.39), (107.1, 134.28), (111.0, 134.24), (115.0, 134.28), (118.9, 134.28), (122.8, 134.21), (126.7, 134.06),
               (130.6, 133.74), (134.5, 133.45), (138.4, 133.34), (142.3, 133.37), (146.2, 133.45), (150.1, 133.56), (154.1, 133.74), (157.0, 133.95),
               (159.9, 134.24), (163.8, 134.53), (167.7, 134.82), (171.7, 135.07), (175.6, 135.29), (179.5, 135.44), (183.4, 135.44), (187.3, 135.40),
               (191.2, 135.44), (195.1, 135.47), (199.0, 135.51), (202.9, 135.51), (206.8, 135.54), (210.8, 135.51), (214.7, 135.29), (218.6, 135.40),
               (222.5, 135.76), (226.4, 136.05), (230.3, 136.27), (234.2, 136.41), (238.1, 136.70), (242.0, 136.99), (245.9, 137.17), (249.9, 137.24),
               (253.8, 137.28), (257.7, 137.39), (261.6, 137.50), (265.5, 137.61), (269.4, 137.68), (273.3, 137.71), (277.2, 137.68), (281.1, 137.64),
               (285.0, 137.61), (289.0, 137.39), (292.9, 137.21), (296.8, 136.99), (298.7, 136.95), (302.6, 136.85), (306.5, 136.70), (310.4, 136.59),
               (312.3, 136.48), (314.3, 136.12), (316.2, 135.62), (318.2, 135.33), (322.1, 135.04), (326.0, 134.97), (329.9, 135.04), (333.8, 135.11),
               (337.7, 134.97), (341.6, 134.82), (345.5, 134.68), (349.4, 134.39), (353.3, 134.10), (357.2, 133.81), (361.1, 133.63), (365.0, 133.74),
               (368.9, 133.88), (372.8, 134.10), (376.7, 134.21), (380.6, 134.17), (384.5, 134.13), (388.4, 134.13), (392.3, 134.53), (396.2, 134.97),
               (400.1, 135.18), (404.0, 135.47), (407.9, 135.69), (411.8, 135.83), (415.7, 136.12), (419.6, 136.63), (423.5, 136.99), (427.4, 137.42),
               (431.3, 137.79), (435.2, 138.15), (439.1, 138.44), (443.0, 138.65), (446.9, 138.73), (450.8, 138.65), (454.6, 138.58), (458.5, 138.58),
               (462.4, 138.62), (466.3, 138.62), (470.2, 138.58), (474.1, 138.65), (478.0, 138.65), (481.9, 138.55), (485.8, 138.47), (489.7, 138.47),
               (493.6, 138.44), (497.5, 138.40), (501.4, 138.44), (505.3, 138.44), (509.2, 138.44), (513.1, 138.36), (517.0, 138.22), (520.9, 138.00),
               (524.8, 137.64), (528.7, 137.28), (531.6, 136.95)]
SPY_MA_SLOW = [(66.1, 135.83), (70.0, 135.76), (73.9, 135.65), (77.8, 135.54), (81.7, 135.44), (85.6, 135.33), (89.5, 135.22), (93.5, 135.11),
               (97.4, 135.04), (101.3, 134.97), (105.2, 134.93), (109.1, 134.89), (113.0, 134.84), (116.9, 134.79), (120.8, 134.71), (124.7, 134.68),
               (128.6, 134.60), (132.6, 134.46), (136.5, 134.28), (140.4, 134.13), (144.3, 134.03), (148.2, 133.95), (152.1, 133.90), (156.0, 133.88),
               (159.9, 133.94), (163.8, 134.01), (167.7, 134.08), (171.7, 134.13), (175.6, 134.21), (179.5, 134.28), (183.4, 134.35), (187.3, 134.39),
               (191.2, 134.46), (195.1, 134.53), (199.0, 134.64), (202.9, 134.79), (206.8, 134.93), (210.8, 135.07), (214.7, 135.26), (218.6, 135.36),
               (222.5, 135.44), (226.4, 135.54), (230.3, 135.62), (234.2, 135.69), (238.1, 135.76), (242.0, 135.87), (245.9, 136.01), (249.9, 136.12),
               (253.8, 136.23), (257.7, 136.34), (261.6, 136.45), (265.5, 136.59), (269.4, 136.74), (273.3, 136.88), (277.2, 136.99), (281.1, 137.14),
               (285.0, 137.24), (289.0, 137.28), (292.9, 137.32), (296.8, 137.35), (304.5, 137.34), (310.4, 137.28), (314.3, 137.06), (318.2, 136.85),
               (322.1, 136.66), (326.0, 136.48), (329.9, 136.34), (333.8, 136.23), (337.7, 136.05), (341.6, 135.91), (345.5, 135.69), (349.4, 135.47),
               (353.3, 135.26), (357.2, 135.04), (361.1, 134.86), (365.0, 134.75), (368.9, 134.60), (372.8, 134.46), (376.7, 134.31), (380.6, 134.21),
               (384.5, 134.13), (388.4, 134.11), (392.3, 134.17), (396.2, 134.24), (400.1, 134.28), (404.0, 134.31), (407.9, 134.39), (411.8, 134.50),
               (415.7, 134.68), (419.6, 134.97), (423.5, 135.29), (427.4, 135.65), (431.3, 136.01), (435.2, 136.34), (439.1, 136.63), (443.0, 136.92),
               (446.9, 137.14), (450.8, 137.35), (454.6, 137.50), (458.5, 137.68), (462.4, 137.82), (466.3, 138.00), (470.2, 138.15), (474.1, 138.29),
               (478.0, 138.40), (481.9, 138.47), (485.8, 138.52), (489.7, 138.55), (493.6, 138.55), (497.5, 138.57), (501.4, 138.55), (505.3, 138.55),
               (509.2, 138.51), (513.1, 138.47), (517.0, 138.40), (520.9, 138.31), (524.8, 138.22), (528.7, 138.11), (531.6, 138.04)]
SPY_ZIGZAG = [(0.0, 137.08), (135.5, 132.62), (271.7, 138.16), (358.2, 133.03), (444.9, 139.32), (530.7, 136.20)]
SPY_LEVELS_THIN = [138.18, 135.21, 134.085]
SPY_LEVELS_THICK = [139.36, 132.58]
FIB_START = 352.3
FIB = [("0.0%", 139.34), ("38.2%", 136.92), ("50.0%", 136.17), ("61.8%", 135.43), ("100.0%", 133.01)]
SPY_BOX = (387.4, 402.0, 134.085, 135.213)
SPY_DASH = (520.0, 545.3, 137.59)
SPY_ARROW = (17.2, 137.41)

# ---------------- $ONE:$VIX panel ----------------
INV_VIX_A = [(0, .05898), (1.6, .05730), (3.5, .05842), (5.5, .05910), (7.4, .05966), (9.4, .05910), (11.3, .05955), (13.3, .05921), (15.2, .05955),
             (17.2, .05966), (19.2, .05943), (21.1, .05898), (23.1, .05752), (25.0, .05640), (26.0, .05527), (27.9, .05370), (29.9, .05381), (31.9, .05325),
             (33.8, .05392), (35.8, .05302), (38.7, .05415), (41.7, .05325), (44.6, .05235), (47.5, .05302), (49.5, .05482), (51.4, .05280), (53.4, .05156),
             (55.3, .05235), (57.3, .05257), (59.2, .05167), (61.2, .05122), (63.2, .05190), (66.1, .05145), (68.0, .05212), (70.0, .05167), (71.9, .05100),
             (73.9, .05167), (75.9, .05280), (77.8, .05437), (79.8, .05325), (81.7, .05235), (83.7, .05212), (85.6, .05280), (87.6, .05302), (89.5, .05257),
             (91.5, .05246), (93.5, .05145), (95.4, .05055), (97.4, .04942), (99.3, .04875), (101.3, .04807), (103.2, .04965), (105.2, .05100), (107.1, .05145),
             (109.1, .05122), (111.0, .05145), (113.0, .05190), (115.0, .05235), (116.9, .05246), (118.9, .05190), (120.8, .05235), (122.4, .05100),
             (123.8, .04987), (125.7, .05055), (127.7, .05010), (128.6, .05280), (130.6, .05122), (132.6, .05100), (134.5, .05077), (136.5, .05190),
             (138.4, .05235), (140.4, .05280), (142.3, .05235), (144.3, .05325), (146.2, .05302), (148.2, .05392), (150.1, .05370), (152.1, .05437),
             (154.1, .05505), (155.0, .05617), (157.0, .05775), (158.9, .05842), (161.9, .05865), (164.8, .05898), (167.7, .05910), (170.7, .05898),
             (173.6, .05932), (176.5, .05977), (178.5, .06033), (180.4, .06072), (181.4, .05932), (183.4, .05752), (185.3, .05820), (187.3, .05865),
             (189.2, .05820), (191.2, .05730), (193.2, .05775), (195.1, .05707), (197.1, .05730), (199.0, .05718), (201.0, .05775), (202.9, .05730),
             (204.9, .05685), (206.8, .05842), (208.8, .05730), (210.8, .05595), (212.3, .05460), (213.7, .05572), (215.6, .05617), (217.6, .05707),
             (219.5, .05786), (221.5, .05820), (223.5, .05876), (226.4, .05865), (229.3, .05842), (231.9, .05707), (234.2, .05932), (236.2, .06067),
             (238.1, .06112), (241.1, .06135), (243.0, .06078), (245.9, .06191), (248.9, .06146), (251.8, .06090), (254.8, .06157), (257.7, .06191),
             (259.6, .06123), (261.6, .06292), (263.5, .06360), (265.5, .06371), (267.4, .06393), (269.4, .06427), (271.4, .06468), (273.3, .06427),
             (275.3, .06382), (277.2, .06281), (279.2, .06326), (281.1, .06303), (283.1, .06281), (285.0, .06225), (286.4, .06011), (288.4, .06225),
             (290.3, .06157), (292.9, .06202), (294.8, .06123), (296.8, .06101), (298.3, .06011), (298.7, .06045), (300.6, .06000), (302.6, .06067),
             (304.5, .06123), (306.5, .06078), (308.4, .06112), (310.4, .06135), (311.8, .06146), (312.3, .05842), (314.3, .05932), (316.2, .05977),
             (318.2, .06022), (320.1, .06033), (322.1, .06000), (324.0, .06022), (326.0, .06011), (327.9, .06056), (329.9, .06090), (331.8, .06101),
             (333.8, .06078), (335.7, .06067), (337.7, .05797), (339.6, .05685), (341.6, .05628), (343.5, .05617), (345.5, .05550), (347.4, .05505),
             (349.4, .05426), (351.3, .05505), (353.3, .05482), (355.2, .05460), (357.2, .05415), (359.1, .05381), (360.7, .05302), (362.1, .05505),
             (364.0, .05842), (366.0, .05752), (367.9, .05617), (369.9, .05527), (371.8, .05494), (373.8, .05527), (375.7, .05516), (377.7, .05572),
             (379.6, .05662), (381.5, .05730), (383.5, .05707), (385.4, .05662), (387.4, .05550), (388.8, .05516), (390.3, .05775), (392.3, .05730),
             (394.2, .05628), (396.2, .05595), (398.1, .05550), (400.1, .05617), (402.0, .05640), (404.0, .05685), (405.9, .05617), (407.9, .05673),
             (409.8, .05617), (411.8, .05685), (413.7, .05707), (415.7, .05797), (417.6, .05640), (419.6, .05775), (421.5, .05707), (423.5, .05775),
             (425.4, .05842), (427.4, .05887), (429.3, .05910), (431.3, .06045), (432.8, .06326), (434.2, .06157), (435.2, .06000), (437.1, .06067),
             (439.1, .06157), (441.0, .06258), (443.0, .06360), (444.9, .06348), (446.9, .06270), (448.8, .06157), (450.8, .06135), (452.7, .06112),
             (454.6, .06090), (456.6, .06123), (458.5, .06090), (460.5, .06123), (462.4, .06101), (464.4, .06123), (466.3, .06078), (467.9, .06258),
             (470.2, .06101), (472.2, .06191), (474.1, .06202), (476.1, .06135), (478.0, .06045), (480.0, .06067), (481.9, .06011), (483.9, .06067),
             (485.8, .06078), (487.8, .06090), (489.7, .06045), (491.7, .06022), (493.6, .05831), (495.6, .05842), (496.6, .05775), (497.5, .05932),
             (499.5, .05910), (501.4, .05955), (503.4, .05989), (505.3, .06011), (507.3, .06033), (509.2, .06022), (511.2, .05932), (513.1, .06123),
             (515.1, .06090), (516.6, .06112), (518.0, .05932), (520.0, .05763), (521.9, .05932), (523.5, .06056), (524.8, .05955), (525.8, .05730),
             (527.2, .05595), (528.7, .05617), (530.3, .05572)]
INV_VIX = [(0, .05718), (1.6, .05516), (3.5, .05707), (5.5, .05696), (7.4, .05718), (9.4, .05696), (11.3, .05707), (13.3, .05718), (15.2, .05741),
           (17.2, .05808), (19.2, .05820), (21.1, .05786), (23.1, .05752), (25.0, .05730), (26.4, .05527), (27.9, .05640), (29.3, .05685), (30.9, .05617),
           (32.8, .05595), (34.8, .05572), (36.8, .05561), (38.7, .05595), (40.7, .05583), (43.6, .05583), (46.5, .05595), (48.5, .05662), (50.4, .05842),
           (52.0, .05516), (54.0, .05505), (55.9, .05505), (57.3, .05595), (59.2, .05617), (61.2, .05527), (63.2, .05539), (65.1, .05527), (67.1, .05617),
           (69.0, .05595), (71.0, .05550), (72.9, .05494), (74.9, .05539), (76.8, .05550), (78.2, .05730), (79.8, .05662), (81.7, .05550), (83.7, .05460),
           (85.6, .05550), (87.6, .05561), (89.5, .05572), (91.5, .05595), (93.5, .05460), (95.4, .05415), (97.4, .05302), (99.3, .05302), (101.3, .05235),
           (103.2, .05325), (105.2, .05471), (107.1, .05415), (109.1, .05381), (111.0, .05426), (113.0, .05460), (115.0, .05426), (116.9, .05437),
           (118.9, .05404), (120.8, .05426), (122.8, .05269), (124.7, .05392), (126.7, .05325), (128.2, .05572), (129.6, .05235), (131.6, .05167),
           (133.5, .05145), (135.5, .05212), (137.4, .05302), (139.4, .05392), (141.3, .05370), (143.3, .05415), (145.3, .05505), (147.2, .05482),
           (149.2, .05527), (151.1, .05527), (153.1, .05583), (154.5, .05460), (156.0, .05842), (158.0, .05854), (159.9, .05910), (161.9, .05921),
           (164.8, .05932), (167.7, .05887), (170.7, .05854), (172.6, .05910), (175.6, .05887), (178.5, .05910), (180.4, .05966), (182.4, .05820),
           (184.3, .05887), (186.3, .05966), (188.3, .06000), (190.2, .05955), (192.2, .05865), (194.1, .05887), (197.1, .05887), (200.0, .05898),
           (202.0, .05910), (203.9, .05854), (205.9, .05820), (207.8, .05966), (209.2, .05955), (210.4, .05775), (211.7, .05865), (212.7, .05752),
           (214.7, .05955), (216.6, .06090), (218.6, .06169), (220.5, .06090), (222.1, .06022), (223.5, .06169), (225.4, .06146), (227.4, .06112),
           (229.3, .06090), (231.9, .06022), (233.8, .06225), (235.2, .06337), (237.2, .06225), (239.1, .06180), (241.1, .06112), (243.0, .06157),
           (245.0, .06213), (247.0, .06202), (248.9, .06213), (250.8, .06247), (252.8, .06225), (255.7, .06292), (258.1, .06371), (259.6, .06191),
           (261.2, .06281), (262.6, .06022), (264.5, .06090), (266.5, .06180), (268.4, .06258), (270.4, .06315), (271.8, .06393), (273.7, .06270),
           (275.3, .06292), (277.3, .06180), (279.2, .06270), (281.2, .06303), (283.1, .06315), (285.1, .06472), (286.1, .06067), (288.1, .06135),
           (290.0, .06078), (292.0, .06067), (293.9, .06022), (295.9, .05955), (297.8, .05898), (298.7, .05898), (300.6, .05955), (302.6, .05977),
           (304.5, .06000), (306.5, .06011), (308.4, .06033), (310.4, .06175), (311.8, .06135), (312.3, .04920), (314.3, .04942), (316.2, .05100),
           (318.2, .05190), (320.1, .05235), (322.1, .05302), (324.0, .05347), (326.0, .05370), (327.9, .05381), (329.9, .05374), (331.8, .05392),
           (333.8, .05370), (335.7, .05415), (337.7, .05370), (339.6, .05235), (341.6, .05100), (343.5, .05235), (345.5, .05302), (346.5, .05100),
           (348.4, .05010), (350.4, .05010), (352.3, .05032), (354.3, .05077), (356.2, .04987), (358.2, .04942), (360.7, .04807), (362.1, .04965),
           (364.0, .05178), (366.0, .05055), (367.9, .04965), (369.9, .04841), (371.8, .04965), (373.8, .05043), (375.7, .05066), (377.7, .05100),
           (379.6, .05246), (381.5, .05235), (383.5, .05190), (385.4, .05178), (387.4, .05122), (388.8, .05100), (390.3, .05685), (392.3, .05662),
           (394.2, .05494), (396.2, .05471), (398.1, .05460), (400.1, .05426), (402.0, .05471), (404.0, .05550), (405.9, .05617), (407.9, .05640),
           (409.8, .05595), (411.8, .05640), (413.7, .05730), (415.7, .05820), (417.6, .05910), (419.6, .05932), (421.5, .05898), (423.5, .05921),
           (425.4, .05955), (427.4, .05966), (429.3, .05820), (431.3, .05865), (433.2, .05943), (435.2, .05932), (437.1, .05989), (439.1, .06022),
           (441.0, .06033), (442.0, .05932), (443.0, .05752), (444.9, .05775), (446.9, .05707), (448.8, .05550), (450.8, .05561), (452.7, .05606),
           (454.6, .05617), (456.6, .05628), (458.5, .05617), (460.5, .05583), (462.4, .05595), (464.4, .05595), (466.3, .05527), (468.3, .05370),
           (470.2, .05370), (472.2, .05415), (474.1, .05471), (476.1, .05448), (478.0, .05370), (480.0, .05381), (481.9, .05347), (483.9, .05347),
           (485.8, .05370), (487.8, .05381), (489.7, .05381), (491.7, .05370), (493.6, .05280), (495.2, .05235), (497.5, .05347), (499.5, .05347),
           (501.4, .05392), (503.4, .05404), (505.3, .05392), (507.3, .05370), (509.2, .05359), (511.6, .05280), (513.1, .05437), (515.1, .05448),
           (516.6, .05437), (518.0, .05280), (520.0, .05437), (521.3, .05617), (522.9, .05640), (524.4, .05550), (525.8, .05415), (527.7, .05302),
           (529.1, .05235), (530.3, .05269)]
INV_TRIN_MA = [(5.5, .04942), (7.4, .04965), (9.4, .04976), (11.3, .04987), (13.3, .04999), (15.2, .05010), (17.6, .05028), (19.2, .05021), (21.1, .04999),
               (23.1, .04954), (25.0, .04920), (27.0, .04886), (28.9, .04875), (30.9, .04864), (32.8, .04852), (35.8, .04841), (38.7, .04848), (41.7, .04848),
               (43.6, .04841), (45.6, .04852), (47.5, .04875), (49.5, .04908), (51.4, .04942), (54.4, .04987), (56.3, .04976), (58.3, .04942), (61.2, .04924),
               (64.1, .04897), (66.1, .04908), (68.0, .04931), (70.0, .04942), (72.9, .04931), (75.9, .04938), (78.8, .04949), (81.7, .04954), (84.7, .04947),
               (87.6, .04938), (90.5, .04926), (92.5, .04908), (94.4, .04881), (97.4, .04857), (100.3, .04841), (102.2, .04848), (103.6, .04897), (105.2, .05055),
               (107.1, .05077), (109.1, .05100), (111.0, .05122), (113.0, .05145), (115.0, .05156), (117.9, .05165), (120.8, .05163), (122.8, .05133),
               (124.7, .05111), (127.7, .05102), (130.6, .05082), (133.5, .05061), (136.5, .05050), (139.4, .05030), (142.3, .05028), (145.3, .05023),
               (148.2, .05010), (150.5, .04999), (152.5, .05014), (154.5, .05050), (156.4, .05088), (158.4, .05111), (160.9, .05113), (163.8, .05122),
               (166.8, .05129), (169.7, .05145), (172.0, .05167), (174.0, .05190), (175.9, .05235), (177.9, .05298), (179.5, .05359), (181.0, .05392),
               (182.6, .05336), (184.4, .05235), (186.3, .05145), (188.3, .05122), (190.2, .05088), (192.2, .05059), (194.1, .05048), (196.1, .05073),
               (198.0, .05100), (200.0, .05122), (202.0, .05122), (203.9, .05100), (205.9, .05066), (208.8, .05055), (211.7, .05055), (214.1, .05064),
               (216.0, .05088), (218.0, .05133), (219.9, .05156), (221.9, .05172), (223.9, .05194), (225.8, .05217), (227.8, .05230), (229.7, .05235),
               (231.7, .05246), (233.4, .05235), (234.6, .05100), (236.2, .05032), (238.1, .04999), (240.1, .05010), (242.0, .05032), (244.0, .05055),
               (245.9, .05088), (247.9, .05100), (250.8, .05113), (253.8, .05122), (257.7, .05122), (260.0, .05122), (262.0, .05145), (263.9, .05178),
               (265.9, .05212), (267.8, .05223), (269.4, .05239), (271.0, .05248), (272.3, .05212), (274.3, .05167), (276.2, .05145), (278.2, .05133),
               (280.8, .05136), (283.5, .05140), (285.4, .05138), (286.6, .05118), (288.6, .05066), (290.5, .05043), (292.9, .05037), (295.8, .05035),
               (298.3, .05032), (300.6, .05021), (302.6, .04999), (304.5, .04987), (306.5, .04976), (308.4, .04972), (310.4, .04972), (312.0, .04987),
               (313.9, .05014), (315.9, .05059), (317.8, .05100), (319.8, .05149), (321.7, .05190), (324.0, .05212), (327.0, .05217), (329.9, .05223),
               (332.8, .05239), (335.3, .05230), (337.3, .05194), (339.2, .05140), (341.2, .05077), (343.5, .05050), (346.5, .05014), (349.4, .04999),
               (352.3, .04999), (354.8, .04987), (357.2, .04969), (359.5, .04947), (361.5, .04960), (363.4, .05021), (365.4, .05095), (367.3, .05122),
               (369.9, .05122), (372.8, .05127), (375.7, .05113), (378.6, .05122), (381.5, .05127), (383.9, .05111), (386.4, .05093), (388.8, .05073),
               (390.7, .05032), (393.2, .05010), (395.2, .05043), (397.1, .05100), (399.1, .05133), (401.0, .05167), (403.0, .05194), (404.9, .05235),
               (406.9, .05257), (408.8, .05280), (410.8, .05302), (412.7, .05336), (414.7, .05359), (416.6, .05336), (418.6, .05302), (420.5, .05269),
               (422.5, .05347), (424.4, .05392), (426.4, .05381), (428.3, .05359), (430.3, .05381), (432.2, .05437), (434.2, .05662), (436.1, .05932),
               (438.1, .06045), (440.0, .06225), (441.4, .06348), (443.0, .05932), (444.5, .05415), (446.5, .05122), (448.4, .05088), (450.8, .05077),
               (452.7, .05043), (454.6, .05055), (456.6, .05077), (458.5, .05088), (461.5, .05093), (464.4, .05111), (466.7, .05133), (468.3, .05100),
               (470.2, .05043), (472.2, .05010), (474.1, .05055), (476.1, .05088), (478.0, .05077), (480.0, .05021), (481.9, .04999), (483.9, .05021),
               (486.8, .05021), (489.7, .05043), (491.7, .05043), (493.6, .05016), (495.6, .05010), (497.5, .05077), (499.5, .05167), (501.4, .05178),
               (503.4, .05172), (505.3, .05190), (507.3, .05212), (509.2, .05201), (511.2, .05167), (513.1, .05122), (515.1, .05077), (517.0, .05066),
               (519.0, .05073), (520.9, .05032), (522.9, .04987), (524.8, .04954), (526.8, .04920), (528.7, .04886), (530.7, .04864)]
INV_TRIN = [(0, .04959), (1.6, .04908), (3.5, .04947), (5.5, .04976), (7.4, .04983), (9.4, .04992), (11.3, .04999), (13.3, .05010), (15.2, .05032),
            (16.8, .05050), (19.2, .05021), (21.1, .04999), (22.1, .04983), (24.0, .04947), (25.4, .04920), (27.0, .04897), (28.0, .04841), (29.9, .04875),
            (31.9, .04864), (32.8, .04830), (34.8, .04834), (36.8, .04857), (38.7, .04857), (40.7, .04857), (42.6, .04841), (44.6, .04819), (46.5, .04864),
            (48.5, .04879), (50.4, .04897), (52.0, .04999), (53.4, .04987), (54.4, .04999), (56.3, .05010), (58.3, .04920), (60.2, .04886), (62.2, .04942),
            (64.1, .04897), (66.1, .04965), (67.1, .04942), (69.0, .04942), (71.0, .04920), (72.9, .04920), (74.9, .04947), (76.8, .04942), (78.8, .04947),
            (80.7, .04987), (82.7, .04942), (84.7, .04942), (86.6, .04931), (88.6, .04931), (90.5, .04924), (92.5, .04897), (94.4, .04875), (96.4, .04852),
            (98.3, .04841), (100.3, .04834), (101.3, .04841), (102.2, .04864), (104.2, .05066), (106.2, .05122), (108.1, .05145), (110.1, .05122),
            (112.0, .05145), (114.0, .05190), (115.9, .05190), (117.9, .05167), (119.8, .05163), (121.8, .05122), (123.8, .05100), (125.7, .05104),
            (127.7, .05100), (129.6, .05077), (131.6, .05055), (133.5, .05043), (135.5, .05032), (137.4, .05014), (139.4, .05014), (141.3, .05021),
            (143.3, .05010), (145.3, .05010), (147.2, .04999), (149.2, .04999), (151.1, .04999), (153.1, .05077), (155.0, .04976), (157.0, .05111),
            (158.9, .05122), (160.9, .05127), (162.9, .05127), (164.8, .05133), (166.8, .05133), (168.7, .05145), (170.7, .05201), (172.6, .05167),
            (174.6, .05190), (176.5, .05246), (177.9, .05392), (179.5, .05404), (180.4, .05478), (182.4, .05212), (184.4, .05145), (186.3, .05145),
            (188.3, .05122), (190.2, .05066), (192.2, .05088), (194.1, .05111), (196.1, .05055), (198.0, .05122), (200.0, .05145), (202.0, .05133),
            (203.9, .05055), (205.9, .05088), (207.8, .05021), (209.8, .05059), (211.7, .05055), (213.7, .04999), (215.6, .05100), (217.6, .05145),
            (219.5, .05178), (221.5, .05122), (223.5, .05253), (225.4, .05257), (227.4, .05235), (229.3, .05235), (231.3, .05269), (233.2, .05269),
            (234.6, .04987), (235.8, .04931), (237.2, .05055), (239.1, .05021), (241.1, .05032), (243.0, .05100), (245.0, .05111), (246.9, .05122),
            (248.9, .05122), (250.8, .05100), (252.8, .05122), (254.7, .05088), (256.7, .05122), (258.7, .05145), (260.6, .05257), (262.6, .05190),
            (264.5, .05224), (266.5, .05302), (268.4, .05269), (270.4, .05190), (272.3, .05145), (274.3, .05122), (276.2, .05133), (278.2, .05127),
            (280.2, .05145), (282.1, .05145), (284.1, .05178), (286.0, .05010), (288.0, .05021), (289.9, .05055), (291.9, .05055), (293.8, .05032),
            (295.8, .05032), (297.8, .05032), (300.6, .04999), (302.6, .04987), (304.5, .04976), (306.5, .04969), (308.4, .05005), (310.4, .04965),
            (312.3, .05100), (314.3, .05145), (316.2, .05122), (318.2, .05201), (320.1, .05212), (322.1, .05224), (324.0, .05212), (326.0, .05235),
            (327.9, .05302), (329.9, .05302), (331.8, .05235), (333.8, .05145), (335.7, .05257), (337.7, .05235), (339.6, .05122), (341.6, .04999),
            (343.5, .05055), (345.5, .04999), (347.4, .04976), (349.4, .05010), (351.3, .05021), (353.3, .04965), (355.2, .04987), (357.2, .04931),
            (359.1, .04920), (361.1, .04920), (363.0, .04965), (365.0, .05100), (366.9, .05133), (368.9, .05122), (370.8, .05122), (372.8, .05111),
            (374.7, .05122), (376.7, .05145), (378.6, .05133), (380.6, .05122), (382.5, .05100), (384.5, .05111), (386.4, .05088), (388.4, .05066),
            (390.3, .04954), (392.3, .05010), (394.2, .05043), (396.2, .05122), (398.1, .05156), (400.1, .05194), (402.0, .05212), (404.0, .05235),
            (405.9, .05269), (407.9, .05302), (409.8, .05325), (411.8, .05347), (413.7, .05437), (415.7, .05437), (416.6, .05201), (418.6, .05302),
            (420.5, .05448), (422.5, .05392), (424.4, .05381), (425.4, .05269), (427.4, .05347), (429.3, .05370), (431.3, .05640), (432.8, .05820),
            (433.6, .05921), (434.8, .06045), (436.1, .06101), (437.1, .06135), (438.1, .06292), (439.4, .06409), (440.6, .06472), (442.6, .05055),
            (443.9, .05111), (445.9, .05122), (447.8, .05066), (449.8, .04999), (451.7, .05066), (453.7, .05077), (455.6, .05088), (457.6, .05088),
            (459.5, .05100), (461.5, .05088), (463.4, .05122), (465.4, .05156), (466.7, .05201), (468.3, .04999), (470.2, .04999), (472.2, .05111),
            (474.1, .05156), (476.1, .05055), (478.0, .04976), (480.0, .05010), (481.9, .05032), (483.9, .05043), (485.8, .05077), (487.8, .05055),
            (489.7, .04999), (491.7, .05032), (493.6, .04954), (495.6, .05100), (497.5, .05172), (499.5, .05190), (501.4, .05190), (503.4, .05178),
            (505.3, .05269), (507.3, .05212), (509.2, .05201), (511.2, .05133), (513.1, .05066), (515.1, .05100), (517.0, .05088), (519.0, .05088),
            (520.9, .04931), (522.9, .04965), (524.8, .04897), (526.8, .04897), (528.7, .04841), (530.7, .04875)]
VIX_DASH = (520.0, 545.0, 0.05275)
VIX_ARROWS = [(536.7, 0.05574), (534.3, 0.05250), (538.1, 0.04886)]
VIX_NOTES = [(555.0, 0.05243, "invertVIX"), (550.2, 0.04872, "invertTRIN")]

# ======================= drawing =======================
XR = Range1d(-0.2, 582.4)
FW = 1237
LEFT = 16
GRAYLINE = "#b4b4b4"
AXFONT = "Liberation Sans"


def panel(fh, y0, y1, ticks, minor, fmt=None, overrides=None, xaxis=False):
    p = figure(frame_width=FW, frame_height=fh, x_range=XR, y_range=Range1d(y0, y1),
               output_backend="svg", toolbar_location=None,
               y_axis_location="right", x_axis_location="below" if xaxis else None,
               min_border_left=LEFT, min_border_right=38, min_border_top=0, min_border_bottom=0,
               background_fill_color="white", border_fill_color="white",
               outline_line_color=GRAYLINE, outline_line_width=1)
    p.xgrid.visible = False
    p.ygrid.visible = False
    ax = p.yaxis[0]
    ax.ticker = FixedTicker(ticks=ticks, minor_ticks=minor)
    if fmt is not None:
        ax.formatter = fmt
    if overrides:
        ax.major_label_overrides = overrides
    ax.axis_line_color = GRAYLINE
    ax.major_tick_line_color = "#777777"
    ax.minor_tick_line_color = "#9a9a9a"
    ax.major_tick_in = 0
    ax.major_tick_out = 4
    ax.minor_tick_in = 0
    ax.minor_tick_out = 2
    ax.major_label_text_font = AXFONT
    ax.major_label_text_font_size = "11px"
    ax.major_label_text_color = "#222222"
    ax.major_label_standoff = 3
    if xaxis:
        xa = p.xaxis[0]
        xt = [BARS_PER_DAY * (i + 1) for i in range(len(DATES))]
        xa.ticker = FixedTicker(ticks=xt)
        xa.major_label_overrides = {t: d for t, d in zip(xt, DATES)}
        xa.axis_line_color = GRAYLINE
        xa.major_tick_line_color = "#777777"
        xa.minor_tick_line_color = None
        xa.major_tick_in = 0
        xa.major_tick_out = 3
        xa.major_label_standoff = 0
        xa.major_label_text_font = AXFONT
        xa.major_label_text_font_size = "10px"
        xa.major_label_text_color = "#222222"
    return p


def title(p, x, y, text):
    p.add_layout(Label(x=x, y=y, text=text, text_font="DejaVu Sans", text_font_size="11px",
                       text_color="#111111", text_baseline="top", text_align="left"))


# ---- header ----
hdr_font = "'Liberation Sans Narrow','Arial Narrow','Liberation Sans',sans-serif"
header_html = (
    f'<div style="position:relative;width:1284px;height:20px;font-family:{hdr_font};color:#111;">'
    '<span style="position:absolute;left:12px;top:-3px;font-size:13px;font-weight:bold;">SPY</span>'
    '<span style="position:absolute;left:44px;top:-1px;font-size:10.5px;">(S&amp;P 500 SPDRs) NYSE</span>'
    '<span style="position:absolute;left:12px;top:10px;font-size:10.5px;">2-Aug-2012 12:17pm</span>'
    '<span style="position:absolute;right:31px;top:-2px;font-size:10.5px;color:#555;">&copy;StockCharts.com</span>'
    '<span style="position:absolute;right:43px;top:9px;font-size:10.5px;white-space:nowrap;">'
    '<b>Open</b> 136.55 <b>High</b> 137.57 <b>Low</b> 135.91 <b>Last</b> 136.18 '
    '<b>Volume</b> 107.8M <b>Chg</b> -1.41 (-1.02%)</span>'
    '<span style="position:absolute;right:33px;top:11px;font-size:8px;color:#c00000;">&#9660;</span>'
    '</div>')
header = Div(text=header_html, width=1284, height=20)

# ---- panel 1: $NYAD ----
p1 = panel(227, -2427, 2254, list(range(-2000, 2001, 500)), list(range(-2400, 2300, 100)))
nb = np.array([t for t, v in NYAD], dtype=float)
nv = np.array([v for t, v in NYAD], dtype=float)
p1.varea(x=nb, y1=0, y2=np.maximum(nv, 0), fill_color="#a2c2a0")
p1.varea(x=nb, y1=np.minimum(nv, 0), y2=0, fill_color="#e8a2b2")
p1.line(nb, nv, line_color="#7ea87e", line_width=1)
p1.add_layout(Span(location=0, dimension="width", line_color="#cc22cc", line_width=1.5))
for lv in NYAD_LEVELS:
    p1.add_layout(Span(location=lv, dimension="width", line_color="#000080", line_width=1.5))
p1.segment(x0=[s[0] for s in NYAD_GREEN_LINES], y0=[s[1] for s in NYAD_GREEN_LINES],
           x1=[s[2] for s in NYAD_GREEN_LINES], y1=[s[3] for s in NYAD_GREEN_LINES], line_color="#229922", line_width=1.3)
p1.segment(x0=[s[0] for s in NYAD_RED_LINES], y0=[s[1] for s in NYAD_RED_LINES],
           x1=[s[2] for s in NYAD_RED_LINES], y1=[s[3] for s in NYAD_RED_LINES], line_color="#ee1111", line_width=1.3)
p1.segment(x0=[s[0] for s in NYAD_RED_FLAT], y0=[s[1] for s in NYAD_RED_FLAT],
           x1=[s[2] for s in NYAD_RED_FLAT], y1=[s[3] for s in NYAD_RED_FLAT], line_color="#ee1111", line_width=3)
p1.segment(x0=[s[0] for s in NYAD_DASH], y0=[s[1] for s in NYAD_DASH],
           x1=[s[2] for s in NYAD_DASH], y1=[s[3] for s in NYAD_DASH], line_color="#4444ee", line_width=1.2, line_dash="4 3")
p1.add_layout(Label(x=NYAD_NOTE[0], y=NYAD_NOTE[1], text=NYAD_NOTE[2], text_font="Liberation Sans", text_font_size="13px",
                    text_font_style="bold", text_color="#ff0000", text_align="right", text_baseline="middle"))
title(p1, 0.6, 2254, "$NYAD (15 min)")

# ---- panel 2: $NYUPV:$NYDNV ----
p2 = panel(228, -0.485, 18.9, list(range(0, 19, 2)), [i * 0.5 for i in range(0, 38)])
ul = [s[0] for s in UPDN]
ur = ul[1:] + [DATA_END]
ucol = ["#f7b8b8" if s[2] == 'p' else "#a2c2a0" for s in UPDN]
p2.quad(left=ul, right=ur, bottom=0, top=[s[1] for s in UPDN], fill_color=ucol, line_color=None)
bl = [s[0] for s in UPDN_BASE]
br = bl[1:] + [DATA_END]
p2.quad(left=bl, right=br, bottom=0, top=[s[1] for s in UPDN_BASE], fill_color="#a09676", line_color=None)
p2.segment(x0=[UPDN_DASH[0]], y0=[UPDN_DASH[2]], x1=[UPDN_DASH[1]], y1=[UPDN_DASH[2]],
           line_color="#4444ee", line_width=1.2, line_dash="4 3")
title(p2, 0.6, 18.9, "$NYUPV:$NYDNV (15 min)")

# ---- panel 3: volume ----
p3 = panel(99, -0.16, 22.3, [5, 10, 15, 20], list(range(1, 23)),
           overrides={5: "5M", 10: "10M", 15: "15M", 20: "20M"})
vb = [s[0] for s in VOL]
vh = [s[1] for s in VOL]
vfill = ["#e8848c" if s[2] == 'r' else "#8e8e8e" for s in VOL]
vline = ["#c23a48" if s[2] == 'r' else "#5c5c5c" for s in VOL]
p3.vbar(x=vb, top=vh, bottom=0, width=1.45, fill_color=vfill, line_color=vline, line_width=0.8)
p3.add_layout(Span(location=VOL_LEVEL, dimension="width", line_color="#000080", line_width=2))
p3.add_layout(Label(x=582.0, y=-0.16, text=f"{FIB[0][0]}: {FIB[0][1]:.2f}", text_font=AXFONT, text_font_size="10px",
                    text_color="#999999", text_align="right", text_baseline="bottom"))

# ---- panel 4: SPY ----
p4 = panel(324, 132.44, 139.47, [133 + 0.5 * i for i in range(13)], [132.5 + 0.1 * i for i in range(71)],
           fmt=PrintfTickFormatter(format="%.1f"), xaxis=True)
for lv in SPY_LEVELS_THIN:
    p4.add_layout(Span(location=lv, dimension="width", line_color="#99ccff", line_width=1.3))
for lv in SPY_LEVELS_THICK:
    p4.add_layout(Span(location=lv, dimension="width", line_color="#99ccff", line_width=3))
p4.segment(x0=[FIB_START] * len(FIB), y0=[f[1] for f in FIB], x1=[582.4] * len(FIB), y1=[f[1] for f in FIB],
           line_color="#f8c898", line_width=1.3)
for name, lv in FIB[1:]:
    p4.add_layout(Label(x=582.0, y=lv, text=f"{name}: {lv:.2f}", text_font=AXFONT, text_font_size="10px",
                        text_color="#999999", text_align="right", text_baseline="bottom"))
p4.quad(left=[SPY_BOX[0]], right=[SPY_BOX[1]], bottom=[SPY_BOX[2]], top=[SPY_BOX[3]],
        fill_color="#8ec5f5", line_color=None)
p4.line([z[0] for z in SPY_ZIGZAG], [z[1] for z in SPY_ZIGZAG], line_color="#ff33ff", line_width=1.3)
p4.line([m[0] for m in SPY_MA_SLOW], [m[1] for m in SPY_MA_SLOW], line_color="#ff6666", line_width=2, line_dash="2 2")
p4.line([m[0] for m in SPY_MA_FAST], [m[1] for m in SPY_MA_FAST], line_color="#2e6b2e", line_width=2, line_dash="2 2")
SPY_COL = {'b': "#2a00f2", 'g': "#17a00a", 'r': "#ee0022"}
p4.segment(x0=[s[0] for s in SPY], y0=[s[1] for s in SPY], x1=[s[0] for s in SPY], y1=[s[2] for s in SPY],
           line_color=[SPY_COL[s[3]] for s in SPY], line_width=3.2)
p4.segment(x0=[SPY_DASH[0]], y0=[SPY_DASH[2]], x1=[SPY_DASH[1]], y1=[SPY_DASH[2]],
           line_color="#2222cc", line_width=1.3, line_dash="4 3")
# red down arrow
p4.rect(x=[SPY_ARROW[0]], y=[SPY_ARROW[1] + 0.28], width=6, height=9, width_units="screen", height_units="screen",
        fill_color="#ff0000", line_color="#ff0000")
p4.scatter(x=[SPY_ARROW[0]], y=[SPY_ARROW[1] + 0.11], marker="inverted_triangle", size=14,
           fill_color="#ff0000", line_color="#ff0000")
title(p4, 0.6, 139.47, "SPY (15 min)")

# ---- panel 5: $ONE:$VIX ----
p5 = panel(258, 0.04762, 0.06517, [0.048 + 0.002 * i for i in range(9)], [0.0475 + 0.0005 * i for i in range(36)],
           fmt=PrintfTickFormatter(format="%.3f"), xaxis=True)
p5.line([c[0] for c in INV_VIX_A], [c[1] for c in INV_VIX_A], line_color="#7ef2f2", line_width=1.5)
p5.line([c[0] for c in INV_VIX], [c[1] for c in INV_VIX], line_color="#ff7aff", line_width=1.5)
p5.scatter([c[0] for c in INV_TRIN], [c[1] for c in INV_TRIN], marker="square", size=4,
           fill_color=None, line_color="#6a6ab8", line_width=1)
p5.line([c[0] for c in INV_TRIN_MA], [c[1] for c in INV_TRIN_MA], line_color="#1d5e1d", line_width=1.3)
p5.segment(x0=[VIX_DASH[0]], y0=[VIX_DASH[2]], x1=[VIX_DASH[1]], y1=[VIX_DASH[2]],
           line_color="#4444cc", line_width=1.2, line_dash="4 3")
ax_ = [a[0] for a in VIX_ARROWS]
ay_ = [a[1] for a in VIX_ARROWS]
p5.rect(x=[a + 6.8 for a in ax_], y=ay_, width=8, height=8, width_units="screen", height_units="screen",
        fill_color="#ff0000", line_color="#ff0000")
p5.scatter(x=[a + 2.9 for a in ax_], y=ay_, marker="triangle", angle=np.pi / 2, size=14,
           fill_color="#ff0000", line_color="#ff0000")
p5.add_layout(Label(x=VIX_NOTES[0][0], y=VIX_NOTES[0][1], text=VIX_NOTES[0][2], text_font="Liberation Sans",
                    text_font_size="13px", text_font_style="bold", text_color="#ff22ff", text_baseline="middle"))
p5.add_layout(Label(x=VIX_NOTES[1][0], y=VIX_NOTES[1][1], text=VIX_NOTES[1][2], text_font="Liberation Sans",
                    text_font_size="13px", text_font_style="bold", text_color="#118811", text_baseline="middle"))
title(p5, 0.6, 0.06517, "$ONE:$VIX (15 min)")

layout = column(header, p1, p2, p3, p4, p5, spacing=0)
open("out.html", "w").write(file_html(layout, INLINE, "SPY"))
